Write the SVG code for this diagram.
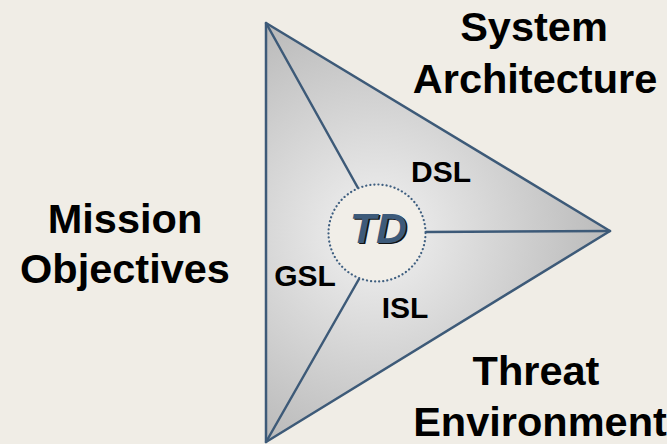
<svg xmlns="http://www.w3.org/2000/svg" width="667" height="444" viewBox="0 0 667 444">
<defs>
<radialGradient id="triFill" gradientUnits="userSpaceOnUse" cx="377" cy="233" r="260">
<stop offset="0" stop-color="#f2f2f2"/>
<stop offset="0.45" stop-color="#d6d6d6"/>
<stop offset="1" stop-color="#b4b4b4"/>
</radialGradient>
<style>
.edge{stroke:#3d5a78;stroke-width:2.5;fill:none;stroke-linecap:round;stroke-linejoin:round}
.tri{stroke:#3d5a78;stroke-width:2.5;fill:url(#triFill);stroke-linejoin:round}
.big{font-family:"Liberation Sans",Arial,sans-serif;font-weight:bold;font-size:41.5px;fill:#000;text-anchor:middle}
.sm{font-family:"Liberation Sans",Arial,sans-serif;font-weight:bold;font-size:30px;fill:#000;text-anchor:middle}
.td{font-family:"Liberation Sans",Arial,sans-serif;font-weight:bold;font-style:italic;font-size:43px;text-anchor:middle}
</style>
</defs>
<rect width="667" height="444" fill="#f0ede6"/>
<g id="triangle">
<polygon points="266,23 610,231 266,442" class="tri"/>
</g>
<g id="connectors">
<line class="edge" x1="266" y1="23" x2="358" y2="188"/>
<line class="edge" x1="610" y1="231" x2="426" y2="232"/>
<line class="edge" x1="266" y1="442" x2="359" y2="279"/>
</g>
<g id="td">
<circle cx="377" cy="233" r="48.5" fill="#f1eee8" stroke="#3f5f80" stroke-width="2.2" stroke-dasharray="0.1 4" stroke-linecap="round"/>
<text class="td" x="380" y="244" fill="#111">TD</text>
<text class="td" x="378.5" y="242.5" fill="#3d5a7a">TD</text>
</g>
<g id="system-architecture">
<text class="big" x="534" y="41">System</text>
<text class="big" x="535" y="93">Architecture</text>
</g>
<g id="mission-objectives">
<text class="big" x="125" y="233">Mission</text>
<text class="big" x="125" y="283">Objectives</text>
</g>
<g id="threat-environment">
<text class="big" x="536" y="385">Threat</text>
<text class="big" x="540" y="436">Environment</text>
</g>
<g id="dsl"><text class="sm" x="441" y="182">DSL</text></g>
<g id="gsl"><text class="sm" x="305" y="286">GSL</text></g>
<g id="isl"><text class="sm" x="405" y="318">ISL</text></g>
</svg>
